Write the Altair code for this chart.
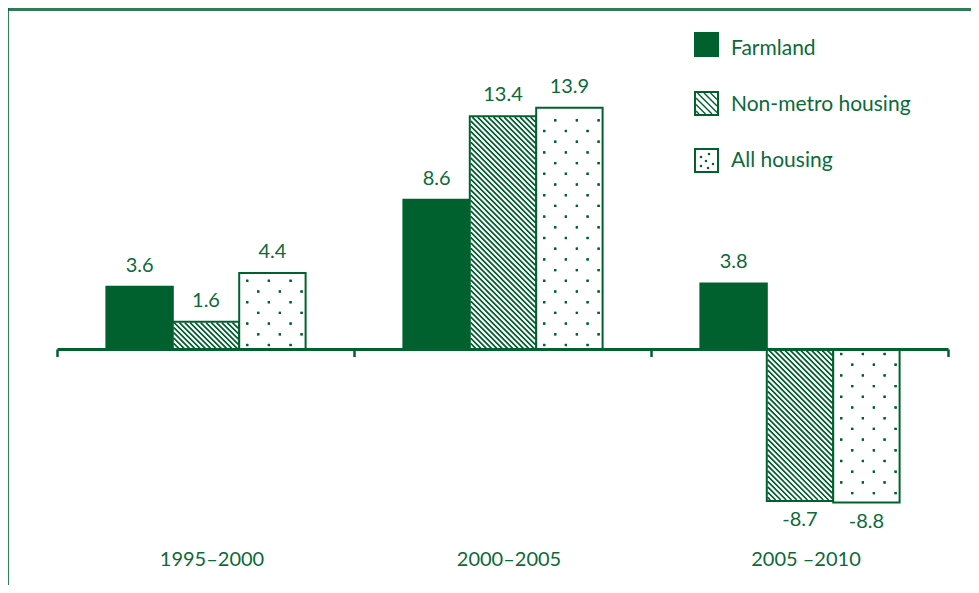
import altair as alt
import pandas as pd

# ---------------- data ----------------
periods = ["1995–2000", "2000–2005", "2005 –2010"]
series = ["Farmland", "Non-metro housing", "All housing"]
farmland = [3.6, 8.6, 3.8]
nonmetro = [1.6, 13.4, -8.7]
allhousing = [4.4, 13.9, -8.8]
values_by_series = [farmland, nonmetro, allhousing]

# ---------------- style / layout ----------------
W, H = 963, 577
GREEN = "#00612f"
TEXT = "#0b6a38"
BAND = "#2e7d57"
FONT = "Lato"
FW = 400

PX_PER_GROUP = 297.0
PX_PER_UNIT = 17.4
ORIGIN_X = 198.0   # plot px of first group centre
ORIGIN_Y = 341.5   # plot px of value zero

XDOM = [-ORIGIN_X / PX_PER_GROUP, (W - ORIGIN_X) / PX_PER_GROUP]
YDOM = [-(H - ORIGIN_Y) / PX_PER_UNIT, ORIGIN_Y / PX_PER_UNIT]
XS = alt.Scale(domain=XDOM, nice=False, zero=False)
YS = alt.Scale(domain=YDOM, nice=False, zero=False)


def dx(px):
    return (px - ORIGIN_X) / PX_PER_GROUP


def dy(py):
    return (ORIGIN_Y - py) / PX_PER_UNIT


def pxx(x):
    return ORIGIN_X + x * PX_PER_GROUP


def pxy(y):
    return ORIGIN_Y - y * PX_PER_UNIT


BAR_W = 66.4 / PX_PER_GROUP
OFFSETS = [-BAR_W, 0.0, BAR_W]


def X(f="x"):
    return alt.X(f + ":Q", scale=XS, axis=None)


def Y(f="y"):
    return alt.Y(f + ":Q", scale=YS, axis=None)


# ---------------- bars ----------------
bar_rows = []
for j, name in enumerate(series):
    for i, p in enumerate(periods):
        v = values_by_series[j][i]
        c = i + OFFSETS[j]
        bar_rows.append(dict(series=name, period=p, x=c - BAR_W / 2, x2=c + BAR_W / 2,
                             y=0.0, y2=v, v=v, xc=c))
bars = pd.DataFrame(bar_rows)


def hatch_segments(x0, x1, y0, y1, step):
    """45deg '\\' lines inside pixel rect (x0<x1, y0<y1 top<bottom)."""
    segs = []
    cmin, cmax = y0 - x1, y1 - x0
    k = int(cmin // step)
    while k * step <= cmax:
        c = k * step
        xa = max(x0, y0 - c)
        xb = min(x1, y1 - c)
        if xb - xa > 0.6:
            segs.append((xa, xa + c, xb, xb + c))
        k += 1
    return segs


def dots_for(x0, x1, ybase, yend, sign):
    pts = []
    j = 0
    while True:
        py = ybase - sign * (4.5 + j * 10.7)
        if (sign > 0 and py < yend + 3) or (sign < 0 and py > yend - 3):
            break
        startx = x0 + (8 if j % 2 == 0 else 19)
        px = startx
        while px <= x1 - 2.5:
            pts.append((px, py))
            px += 21.7
        j += 1
    return pts


hatch_rows, dot_rows = [], []
for r in bar_rows:
    x0, x1 = pxx(r["x"]) + 1, pxx(r["x2"]) - 1
    ya, yb = pxy(r["y2"]), pxy(0)
    top, bot = min(ya, yb) + 1, max(ya, yb) - 1
    if r["series"] == "Non-metro housing":
        for (a, b, c, d) in hatch_segments(x0, x1, top, bot, 5.3):
            hatch_rows.append(dict(x=dx(a), y=dy(b), x2=dx(c), y2=dy(d)))
    elif r["series"] == "All housing":
        sign = 1 if r["v"] >= 0 else -1
        for (a, b) in dots_for(pxx(r["x"]), pxx(r["x2"]), pxy(0), pxy(r["v"]), sign):
            dot_rows.append(dict(x=dx(a), y=dy(b)))

# ---------------- legend ----------------
LEG_X0, LEG_SIZE = 687.0, 23.0
leg_tops = [25.0, 84.0, 141.0]
leg_base = [47.0, 102.7, 158.7]
leg_rows = []
for j, name in enumerate(series):
    t = leg_tops[j]
    leg_rows.append(dict(series=name, x=dx(LEG_X0), x2=dx(LEG_X0 + LEG_SIZE),
                         y=dy(t), y2=dy(t + LEG_SIZE),
                         tx=dx(723.0), ty=dy(leg_base[j])))
    if name == "Non-metro housing":
        for (a, b, c, d) in hatch_segments(LEG_X0 + 1, LEG_X0 + LEG_SIZE - 1, t + 1, t + LEG_SIZE - 1, 6.5):
            hatch_rows.append(dict(x=dx(a), y=dy(b), x2=dx(c), y2=dy(d)))
    if name == "All housing":
        for (a, b) in [(6, 8), (14, 5), (11, 12), (18, 15), (6, 17), (13, 19)]:
            dot_rows.append(dict(x=dx(LEG_X0 + a), y=dy(t + b)))
legend = pd.DataFrame(leg_rows)
hatch = pd.DataFrame(hatch_rows)
dots = pd.DataFrame(dot_rows)

# ---------------- axis ----------------
axis_df = pd.DataFrame([dict(x=-0.5, x2=len(periods) - 0.5, y=0.0, y2=0.0)])
tick_df = pd.DataFrame([dict(x=i - 0.5, y=0.0, y2=-7.5 / PX_PER_UNIT) for i in range(len(periods) + 1)])
cat_df = pd.DataFrame([dict(label=p, x=i + 6 / PX_PER_GROUP, y=dy(557.5)) for i, p in enumerate(periods)])

pos = bars[bars.v >= 0].copy()
pos["ty"] = pos.v + 15.0 / PX_PER_UNIT
neg = bars[bars.v < 0].copy()
neg["ty"] = neg.v - 9.5 / PX_PER_UNIT
pos["lab"] = pos.v.map(lambda v: f"{v:.1f}")
neg["lab"] = neg.v.map(lambda v: f"{v:.1f}")

fill_scale = alt.Scale(domain=series, range=[GREEN, "white", "white"])

layers = []
# frame
frame = pd.DataFrame([dict(k=1)])
layers.append(alt.Chart(frame).mark_rect(color=BAND).encode(
    x=alt.value(0), x2=alt.value(W), y=alt.value(0), y2=alt.value(3)))
layers.append(alt.Chart(frame).mark_rule(color=GREEN, strokeWidth=1.6).encode(
    x=alt.value(0), y=alt.value(0), y2=alt.value(H)))
# bars
layers.append(alt.Chart(bars).mark_rect(stroke=GREEN, strokeWidth=2).encode(
    x=X(), x2="x2", y=Y(), y2="y2",
    fill=alt.Fill("series:N", scale=fill_scale, legend=None)))
layers.append(alt.Chart(hatch).mark_rule(color=GREEN, strokeWidth=1.4).encode(
    x=X(), y=Y(), x2="x2", y2="y2"))
layers.append(alt.Chart(dots).mark_square(color=GREEN, size=5, opacity=1).encode(
    x=X(), y=Y()))
# axis
layers.append(alt.Chart(axis_df).mark_rule(color=GREEN, strokeWidth=3).encode(
    x=X(), x2="x2", y=Y()))
layers.append(alt.Chart(tick_df).mark_rule(color=GREEN, strokeWidth=2.5).encode(
    x=X(), y=Y(), y2="y2"))
# value labels
layers.append(alt.Chart(pos).mark_text(font=FONT, fontWeight=FW, fontSize=20, color=TEXT,
                                       baseline="alphabetic").encode(
    x=X("xc"), y=Y("ty"), text="lab:N"))
layers.append(alt.Chart(neg).mark_text(font=FONT, fontWeight=FW, fontSize=20, color=TEXT,
                                       baseline="top").encode(
    x=X("xc"), y=Y("ty"), text="lab:N"))
# category labels
layers.append(alt.Chart(cat_df).mark_text(font=FONT, fontWeight=FW, fontSize=20, color=TEXT,
                                          baseline="alphabetic").encode(
    x=X(), y=Y(), text="label:N"))
# legend
layers.append(alt.Chart(legend).mark_rect(stroke=GREEN, strokeWidth=2).encode(
    x=X(), x2="x2", y=Y(), y2="y2",
    fill=alt.Fill("series:N", scale=fill_scale, legend=None)))
layers.append(alt.Chart(legend).mark_text(font=FONT, fontWeight=FW, fontSize=21, color=TEXT,
                                          align="left", baseline="alphabetic").encode(
    x=X("tx"), y=Y("ty"), text="series:N"))
# re-draw hatch & dots above legend boxes
layers.append(alt.Chart(hatch).mark_rule(color=GREEN, strokeWidth=1.4).encode(
    x=X(), y=Y(), x2="x2", y2="y2"))
layers.append(alt.Chart(dots).mark_square(color=GREEN, size=5, opacity=1).encode(
    x=X(), y=Y()))

chart = alt.layer(*layers).properties(
    width=W, height=H, padding=0, background="white",
    autosize=alt.AutoSizeParams(type="none"),
).configure_view(stroke=None)

chart.save("out.html", embed_options={"renderer": "svg", "actions": False})
